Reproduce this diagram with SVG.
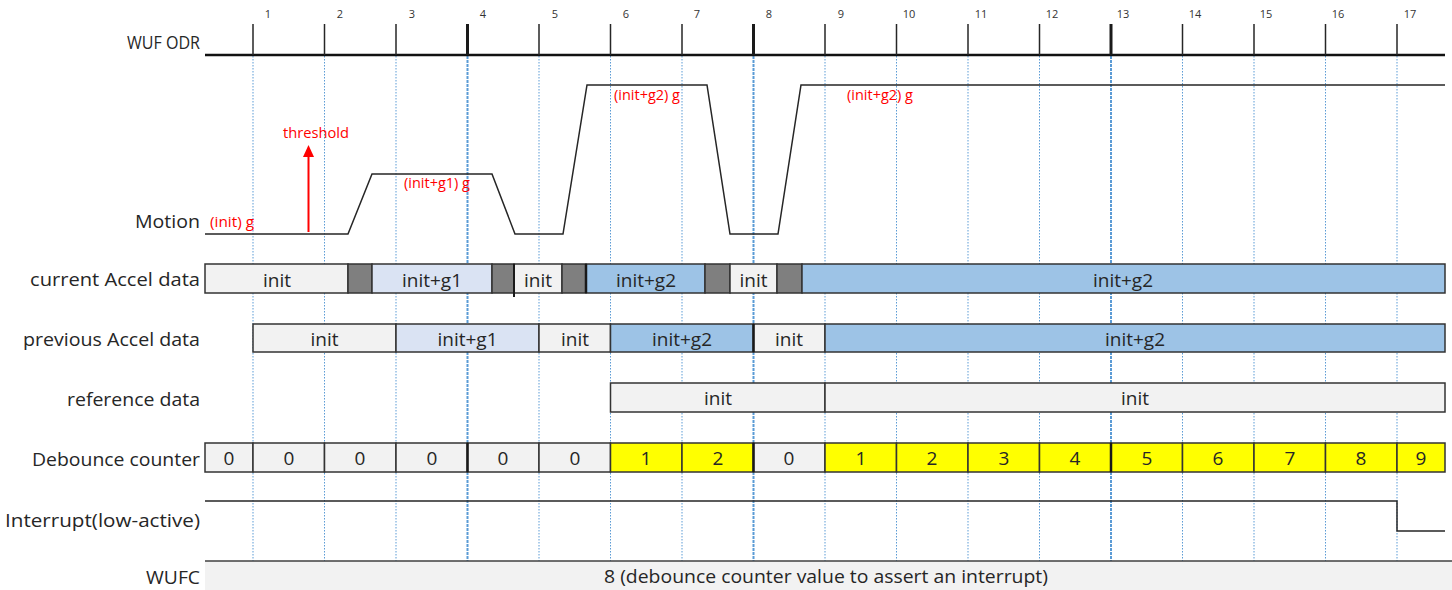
<svg xmlns="http://www.w3.org/2000/svg" width="1452" height="590" viewBox="0 0 1452 590">
<style>
.lbl{font-family:"Open Sans","Liberation Sans",Arial,sans-serif;font-size:18px;fill:#262626;text-anchor:end}
.tn{font-family:"Open Sans","Liberation Sans",Arial,sans-serif;font-size:11px;fill:#333;text-anchor:middle}
.bx{font-family:"Open Sans","Liberation Sans",Arial,sans-serif;font-size:19px;fill:#262626;text-anchor:middle}
.red{font-family:"Open Sans","Liberation Sans",Arial,sans-serif;font-size:14px;fill:#ff0000}
.grid{stroke:#5b9bd5;stroke-width:1;stroke-dasharray:1.5 1.5}
.gridb{stroke:#5b9bd5;stroke-width:2;stroke-dasharray:3 1}
.tick{stroke:#262626;stroke-width:1.5}
.tickb{stroke:#1a1a1a;stroke-width:3}
.c{stroke:#333;stroke-width:1.5}
.lg{fill:#f2f2f2}
.dg{fill:#7f7f7f}
.lv{fill:#dae3f3}
.bl{fill:#9dc3e6}
.ye{fill:#ffff00}
.sig{fill:none;stroke:#262626;stroke-width:1.5}
</style>

<g id="labels">
<text class="lbl" x="200" y="49" textLength="73" lengthAdjust="spacingAndGlyphs">WUF ODR</text>
<text class="lbl" x="200" y="228" textLength="65" lengthAdjust="spacingAndGlyphs">Motion</text>
<text class="lbl" x="200" y="286" textLength="170" lengthAdjust="spacingAndGlyphs">current Accel data</text>
<text class="lbl" x="200" y="346" textLength="177" lengthAdjust="spacingAndGlyphs">previous Accel data</text>
<text class="lbl" x="200" y="406" textLength="133" lengthAdjust="spacingAndGlyphs">reference data</text>
<text class="lbl" x="200" y="466" textLength="168" lengthAdjust="spacingAndGlyphs">Debounce counter</text>
<text class="lbl" x="200" y="527" textLength="195" lengthAdjust="spacingAndGlyphs">Interrupt(low-active)</text>
<text class="lbl" x="200" y="584" textLength="54" lengthAdjust="spacingAndGlyphs">WUFC</text>
</g>

<g id="grid">
<line class="grid" x1="253" y1="56" x2="253" y2="561"/>
<line class="grid" x1="324.5" y1="56" x2="324.5" y2="561"/>
<line class="grid" x1="396" y1="56" x2="396" y2="561"/>
<line class="gridb" x1="467.5" y1="56" x2="467.5" y2="561"/>
<line class="grid" x1="539" y1="56" x2="539" y2="561"/>
<line class="grid" x1="610.5" y1="56" x2="610.5" y2="561"/>
<line class="grid" x1="682" y1="56" x2="682" y2="561"/>
<line class="gridb" x1="753.5" y1="56" x2="753.5" y2="561" stroke-dasharray="none"/>
<line class="grid" x1="825" y1="56" x2="825" y2="561"/>
<line class="grid" x1="896.5" y1="56" x2="896.5" y2="561"/>
<line class="grid" x1="968" y1="56" x2="968" y2="561"/>
<line class="grid" x1="1039.5" y1="56" x2="1039.5" y2="561"/>
<line class="gridb" x1="1111" y1="56" x2="1111" y2="561"/>
<line class="grid" x1="1182.5" y1="56" x2="1182.5" y2="561"/>
<line class="grid" x1="1254" y1="56" x2="1254" y2="561"/>
<line class="grid" x1="1325.5" y1="56" x2="1325.5" y2="561"/>
<line class="grid" x1="1397" y1="56" x2="1397" y2="561"/>
</g>

<g id="wuf-odr">
<line x1="205" y1="55" x2="1445" y2="55" stroke="#111" stroke-width="2.5"/>
<line class="tick" x1="253" y1="24" x2="253" y2="55"/>
<line class="tick" x1="324.5" y1="24" x2="324.5" y2="55"/>
<line class="tick" x1="396" y1="24" x2="396" y2="55"/>
<line class="tickb" x1="467.5" y1="24" x2="467.5" y2="55"/>
<line class="tick" x1="539" y1="24" x2="539" y2="55"/>
<line class="tick" x1="610.5" y1="24" x2="610.5" y2="55"/>
<line class="tick" x1="682" y1="24" x2="682" y2="55"/>
<line class="tickb" x1="753.5" y1="24" x2="753.5" y2="55"/>
<line class="tick" x1="825" y1="24" x2="825" y2="55"/>
<line class="tick" x1="896.5" y1="24" x2="896.5" y2="55"/>
<line class="tick" x1="968" y1="24" x2="968" y2="55"/>
<line class="tick" x1="1039.5" y1="24" x2="1039.5" y2="55"/>
<line class="tickb" x1="1111" y1="24" x2="1111" y2="55"/>
<line class="tick" x1="1182.5" y1="24" x2="1182.5" y2="55"/>
<line class="tick" x1="1254" y1="24" x2="1254" y2="55"/>
<line class="tick" x1="1325.5" y1="24" x2="1325.5" y2="55"/>
<line class="tick" x1="1397" y1="24" x2="1397" y2="55"/>
<text class="tn" x="268" y="18">1</text>
<text class="tn" x="340" y="18">2</text>
<text class="tn" x="412" y="18">3</text>
<text class="tn" x="483" y="18">4</text>
<text class="tn" x="555" y="18">5</text>
<text class="tn" x="626" y="18">6</text>
<text class="tn" x="697" y="18">7</text>
<text class="tn" x="769" y="18">8</text>
<text class="tn" x="841" y="18">9</text>
<text class="tn" x="909" y="18">10</text>
<text class="tn" x="981" y="18">11</text>
<text class="tn" x="1052" y="18">12</text>
<text class="tn" x="1123" y="18">13</text>
<text class="tn" x="1195" y="18">14</text>
<text class="tn" x="1266" y="18">15</text>
<text class="tn" x="1338" y="18">16</text>
<text class="tn" x="1410" y="18">17</text>
</g>

<g id="motion">
<polyline class="sig" points="205,234 348,234 372,174 492,174 515,234 563,234 587,85 707,85 730,234 778,234 801,85 1445,85"/>
<line x1="308.5" y1="232" x2="308.5" y2="155" stroke="#ff0000" stroke-width="2"/>
<polygon points="308.5,145 303,157 314,157" fill="#ff0000"/>
<text class="red" x="283" y="138" textLength="66" lengthAdjust="spacingAndGlyphs">threshold</text>
<text class="red" x="210" y="227" textLength="44" lengthAdjust="spacingAndGlyphs">(init) g</text>
<text class="red" x="404" y="188" textLength="66" lengthAdjust="spacingAndGlyphs">(init+g1) g</text>
<text class="red" x="614" y="100" textLength="66" lengthAdjust="spacingAndGlyphs">(init+g2) g</text>
<text class="red" x="847" y="100" textLength="66" lengthAdjust="spacingAndGlyphs">(init+g2) g</text>
</g>

<g id="current-accel">
<rect class="lg c" x="205" y="264" width="143" height="29"/>
<rect class="dg c" x="348" y="264" width="24" height="29"/>
<rect class="lv c" x="372" y="264" width="120" height="29"/>
<rect class="dg c" x="492" y="264" width="22" height="29"/>
<rect class="lg c" x="514" y="264" width="48" height="29"/>
<rect class="dg c" x="562" y="264" width="24" height="29"/>
<rect class="bl c" x="586" y="264" width="119" height="29"/>
<rect class="dg c" x="705" y="264" width="25" height="29"/>
<rect class="lg c" x="730" y="264" width="47" height="29"/>
<rect class="dg c" x="777" y="264" width="25" height="29"/>
<rect class="bl c" x="802" y="264" width="643" height="29"/>
<line x1="514" y1="264" x2="514" y2="297" stroke="#1a1a1a" stroke-width="2"/>
<line x1="586" y1="264" x2="586" y2="293" stroke="#1a1a1a" stroke-width="2.5"/>
<text class="bx" x="277" y="287">init</text>
<text class="bx" x="432" y="287">init+g1</text>
<text class="bx" x="538" y="287">init</text>
<text class="bx" x="646" y="287">init+g2</text>
<text class="bx" x="753.5" y="287">init</text>
<text class="bx" x="1123" y="287">init+g2</text>
</g>

<g id="previous-accel">
<rect class="lg c" x="253" y="324" width="143" height="28"/>
<rect class="lv c" x="396" y="324" width="143" height="28"/>
<rect class="lg c" x="539" y="324" width="71.5" height="28"/>
<rect class="bl c" x="610.5" y="324" width="143" height="28"/>
<rect class="lg c" x="753.5" y="324" width="71.5" height="28"/>
<rect class="bl c" x="825" y="324" width="620" height="28"/>
<line x1="753.5" y1="324" x2="753.5" y2="352" stroke="#1a1a1a" stroke-width="2.5"/>
<text class="bx" x="324.5" y="346">init</text>
<text class="bx" x="467.5" y="346">init+g1</text>
<text class="bx" x="575" y="346">init</text>
<text class="bx" x="682" y="346">init+g2</text>
<text class="bx" x="789" y="346">init</text>
<text class="bx" x="1135" y="346">init+g2</text>
</g>

<g id="reference-data">
<rect class="lg c" x="610.5" y="383" width="214.5" height="29"/>
<rect class="lg c" x="825" y="383" width="620" height="29"/>
<text class="bx" x="718" y="405">init</text>
<text class="bx" x="1135" y="405">init</text>
</g>

<g id="debounce">
<rect class="lg c" x="205" y="443" width="48" height="29"/>
<rect class="lg c" x="253" y="443" width="71.5" height="29"/>
<rect class="lg c" x="324.5" y="443" width="71.5" height="29"/>
<rect class="lg c" x="396" y="443" width="71.5" height="29"/>
<rect class="lg c" x="467.5" y="443" width="71.5" height="29"/>
<rect class="lg c" x="539" y="443" width="71.5" height="29"/>
<rect class="ye c" x="610.5" y="443" width="71.5" height="29"/>
<rect class="ye c" x="682" y="443" width="71.5" height="29"/>
<rect class="lg c" x="753.5" y="443" width="71.5" height="29"/>
<rect class="ye c" x="825" y="443" width="71.5" height="29"/>
<rect class="ye c" x="896.5" y="443" width="71.5" height="29"/>
<rect class="ye c" x="968" y="443" width="71.5" height="29"/>
<rect class="ye c" x="1039.5" y="443" width="71.5" height="29"/>
<rect class="ye c" x="1111" y="443" width="71.5" height="29"/>
<rect class="ye c" x="1182.5" y="443" width="71.5" height="29"/>
<rect class="ye c" x="1254" y="443" width="71.5" height="29"/>
<rect class="ye c" x="1325.5" y="443" width="71.5" height="29"/>
<rect class="ye c" x="1397" y="443" width="48" height="29"/>
<line x1="467.5" y1="443" x2="467.5" y2="472" stroke="#1a1a1a" stroke-width="2.5"/>
<line x1="753.5" y1="443" x2="753.5" y2="472" stroke="#1a1a1a" stroke-width="2.5"/>
<line x1="1111" y1="443" x2="1111" y2="472" stroke="#1a1a1a" stroke-width="2.5"/>
<text class="bx" x="229" y="465">0</text>
<text class="bx" x="289" y="465">0</text>
<text class="bx" x="360" y="465">0</text>
<text class="bx" x="432" y="465">0</text>
<text class="bx" x="503" y="465">0</text>
<text class="bx" x="575" y="465">0</text>
<text class="bx" x="646" y="465">1</text>
<text class="bx" x="718" y="465">2</text>
<text class="bx" x="789" y="465">0</text>
<text class="bx" x="861" y="465">1</text>
<text class="bx" x="932" y="465">2</text>
<text class="bx" x="1004" y="465">3</text>
<text class="bx" x="1075" y="465">4</text>
<text class="bx" x="1147" y="465">5</text>
<text class="bx" x="1218" y="465">6</text>
<text class="bx" x="1290" y="465">7</text>
<text class="bx" x="1361" y="465">8</text>
<text class="bx" x="1421" y="465">9</text>
</g>

<g id="interrupt">
<polyline class="sig" points="205,501 1397,501 1397,531 1445,531"/>
</g>

<g id="wufc">
<rect class="lg" x="205" y="561" width="1247" height="29"/>
<line x1="205" y1="561" x2="1452" y2="561" stroke="#404040" stroke-width="1.5"/>
<text class="bx" x="826" y="583" textLength="444" lengthAdjust="spacingAndGlyphs">8 (debounce counter value to assert an interrupt)</text>
</g>
</svg>
